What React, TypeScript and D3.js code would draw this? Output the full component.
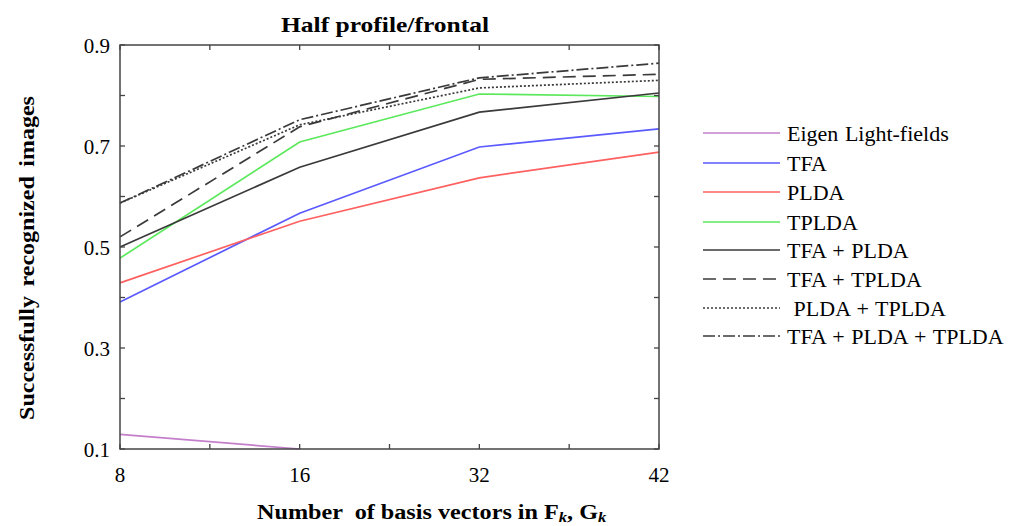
import React, { useEffect, useRef } from "react";
import * as d3 from "d3";

const xLabels = ["8", "16", "32", "42"];
const yTicks = [0.1, 0.3, 0.5, 0.7, 0.9];
const yMinor = [0.2, 0.4, 0.6, 0.8];

const eigen = [0.129, 0.1];
const tfa = [0.391, 0.567, 0.698, 0.734];
const plda = [0.429, 0.551, 0.637, 0.688];
const tplda = [0.478, 0.708, 0.803, 0.798];
const tfaPlda = [0.5, 0.658, 0.767, 0.805];
const tfaTplda = [0.52, 0.738, 0.832, 0.842];
const pldaTplda = [0.587, 0.742, 0.815, 0.83];
const allThree = [0.587, 0.752, 0.835, 0.864];

const seriesNames = [
  "Eigen Light-fields",
  "TFA",
  "PLDA",
  "TPLDA",
  "TFA + PLDA",
  "TFA + TPLDA",
  " PLDA + TPLDA",
  "TFA + PLDA + TPLDA",
];

const App = () => {
  const ref = useRef<SVGSVGElement>(null);

  useEffect(() => {
    document.body.style.margin = "0";
    const svg = d3.select(ref.current);
    svg.selectAll("*").remove();

    const left = 120;
    const right = 659;
    const top = 45;
    const bottom = 449;
    const serif = "'Liberation Serif', 'Times New Roman', serif";

    const x = d3.scalePoint().domain(xLabels).range([left, right]);
    const y = d3.scaleLinear().domain([0.1, 0.9]).range([bottom, top]);

    const series = [
      { name: seriesNames[0], values: eigen, color: "#c47fcb", dash: null },
      { name: seriesNames[1], values: tfa, color: "#5a5aff", dash: null },
      { name: seriesNames[2], values: plda, color: "#ff6060", dash: null },
      { name: seriesNames[3], values: tplda, color: "#5ce85c", dash: null },
      { name: seriesNames[4], values: tfaPlda, color: "#3a3a3a", dash: null },
      { name: seriesNames[5], values: tfaTplda, color: "#3a3a3a", dash: "13,7" },
      { name: seriesNames[6], values: pldaTplda, color: "#3a3a3a", dash: "2,2" },
      { name: seriesNames[7], values: allThree, color: "#3a3a3a", dash: "12,3,2,3" },
    ];

    const line = d3
      .line<number>()
      .x((d, i) => x(xLabels[i]) as number)
      .y((d) => y(d));

    series.forEach((s) => {
      svg
        .append("path")
        .attr("d", line(s.values))
        .attr("fill", "none")
        .attr("stroke", s.color)
        .attr("stroke-width", 1.7)
        .attr("stroke-dasharray", s.dash);
    });

    // frame
    svg
      .append("rect")
      .attr("x", left)
      .attr("y", top)
      .attr("width", right - left)
      .attr("height", bottom - top)
      .attr("fill", "none")
      .attr("stroke", "#444")
      .attr("stroke-width", 1.5);

    const tickLen = 5;
    const mids = d3.pairs(xLabels).map(([a, b]) => ((x(a) as number) + (x(b) as number)) / 2);
    const xTickPos = xLabels.map((l) => x(l) as number).concat(mids);
    const g = svg.append("g").attr("stroke", "#444").attr("stroke-width", 1.3);
    xTickPos.forEach((px) => {
      g.append("line").attr("x1", px).attr("x2", px).attr("y1", bottom).attr("y2", bottom - tickLen);
      g.append("line").attr("x1", px).attr("x2", px).attr("y1", top).attr("y2", top + tickLen);
    });
    yTicks.concat(yMinor).forEach((v) => {
      const py = y(v);
      g.append("line").attr("x1", left).attr("x2", left + tickLen).attr("y1", py).attr("y2", py);
      g.append("line").attr("x1", right).attr("x2", right - tickLen).attr("y1", py).attr("y2", py);
    });

    svg
      .selectAll(".ylab")
      .data(yTicks)
      .enter()
      .append("text")
      .attr("x", 110)
      .attr("y", (d) => y(d) + 8)
      .attr("text-anchor", "end")
      .attr("font-family", serif)
      .attr("font-size", 21)
      .text((d) => d3.format(".1f")(d));

    svg
      .selectAll(".xlab")
      .data(xLabels)
      .enter()
      .append("text")
      .attr("x", (d) => x(d) as number)
      .attr("y", 482)
      .attr("text-anchor", "middle")
      .attr("font-family", serif)
      .attr("font-size", 21)
      .text((d) => d);

    // title
    svg
      .append("g")
      .attr("transform", "translate(385,32) scale(1.16,1)")
      .append("text")
      .attr("text-anchor", "middle")
      .attr("font-family", serif)
      .attr("font-weight", "bold")
      .attr("font-size", 22)
      .text("Half profile/frontal");

    // y axis title
    svg
      .append("g")
      .attr("transform", "translate(34,258) rotate(-90) scale(1.2,1)")
      .append("text")
      .attr("text-anchor", "middle")
      .attr("font-family", serif)
      .attr("font-weight", "bold")
      .attr("font-size", 20)
      .attr("word-spacing", 3)
      .text("Successfully recognized images");

    // x axis title
    const xt = svg
      .append("g")
      .attr("transform", "translate(257,519) scale(1.1,1)")
      .append("text")
      .attr("font-family", serif)
      .attr("font-weight", "bold")
      .attr("font-size", 22)
      .attr("xml:space", "preserve")
      .style("white-space", "pre");
    xt.append("tspan").text("Number  of basis vectors in F");
    xt.append("tspan").attr("font-style", "italic").attr("font-size", 15).attr("dy", 3).text("k");
    xt.append("tspan").attr("dy", -3).text(", G");
    xt.append("tspan").attr("font-style", "italic").attr("font-size", 15).attr("dy", 3).text("k");

    // legend
    const legendY = [133, 163, 192, 222, 250, 279, 308, 336];
    series.forEach((s, i) => {
      svg
        .append("line")
        .attr("x1", 703)
        .attr("x2", 780)
        .attr("y1", legendY[i])
        .attr("y2", legendY[i])
        .attr("stroke", s.color)
        .attr("stroke-width", 1.7)
        .attr("stroke-dasharray", s.dash);
      svg
        .append("g")
        .attr("transform", `translate(787,${legendY[i] + 8}) scale(1.1,1)`)
        .append("text")
        .attr("font-family", serif)
        .attr("font-size", 20)
        .attr("word-spacing", 1)
        .attr("xml:space", "preserve")
        .style("white-space", "pre")
        .text(s.name);
    });
  }, []);

  return <svg ref={ref} width={1011} height={526} style={{ display: "block" }}></svg>;
};

export default App;
